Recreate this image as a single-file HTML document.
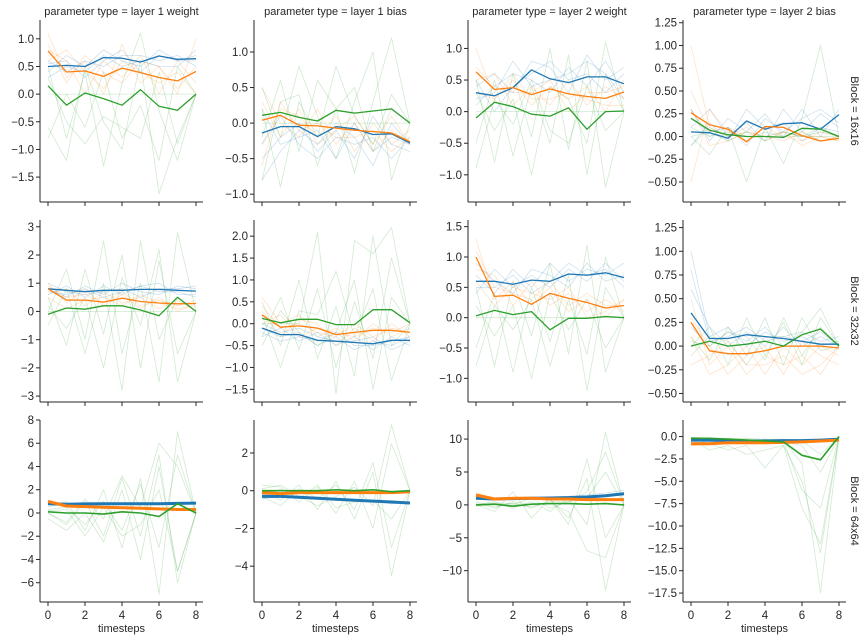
<!DOCTYPE html>
<html><head><meta charset="utf-8"><style>
html,body{margin:0;padding:0;background:#fff;}
svg{display:block;font-family:"Liberation Sans","DejaVu Sans",sans-serif;}
</style></head><body>
<svg id="chart" width="866" height="640" viewBox="0 0 866 640" xmlns="http://www.w3.org/2000/svg"></svg>
<script>
const xSteps=[0,1,2,3,4,5,6,7,8];
const xTicks=[0,2,4,6,8];
const colTitles=["parameter type = layer 1 weight","parameter type = layer 1 bias","parameter type = layer 2 weight","parameter type = layer 2 bias"];
const rowTitles=["Block = 16x16","Block = 32x32","Block = 64x64"];
const yDomains=[[[-1.95,1.34],[-1.11,1.45],[-1.43,1.45],[-0.72,1.28]],
[[-3.21,3.24],[-1.79,2.37],[-1.39,1.61],[-0.59,1.33]],
[[-7.66,8],[-5.9,3.75],[-14.76,12.9],[-18.5,1.85]]];
const yTicks=[[[-1.5,-1,-0.5,0,0.5,1],[-1,-0.5,0,0.5,1],[-1,-0.5,0,0.5,1],[-0.5,-0.25,0,0.25,0.5,0.75,1,1.25]],
[[-3,-2,-1,0,1,2,3],[-1.5,-1,-0.5,0,0.5,1,1.5,2],[-1,-0.5,0,0.5,1,1.5],[-0.5,-0.25,0,0.25,0.5,0.75,1,1.25]],
[[-6,-4,-2,0,2,4,6,8],[-4,-2,0,2],[-10,-5,0,5,10],[-17.5,-15,-12.5,-10,-7.5,-5,-2.5,0]]];
const yDecimals=[[1,1,1,2],[0,1,1,2],[0,0,0,1]];
const boldBlue=[[[0.5,0.52,0.5,0.66,0.65,0.58,0.69,0.63,0.64],[-0.14,-0.05,-0.05,-0.19,-0.05,-0.08,-0.16,-0.15,-0.28],[0.3,0.25,0.38,0.66,0.52,0.46,0.55,0.55,0.44],[0.05,0.04,-0.02,0.17,0.08,0.14,0.15,0.08,0.24]],
[[0.8,0.75,0.7,0.75,0.75,0.78,0.78,0.75,0.72],[-0.1,-0.25,-0.25,-0.38,-0.4,-0.43,-0.46,-0.38,-0.38],[0.6,0.6,0.55,0.62,0.6,0.72,0.7,0.74,0.66],[0.35,0.08,0.08,0.12,0.1,0.08,0.05,0.02,0.02]],
[[0.8,0.75,0.78,0.8,0.8,0.8,0.8,0.82,0.85],[-0.3,-0.3,-0.35,-0.4,-0.45,-0.5,-0.55,-0.6,-0.65],[1.0,0.9,0.95,1.0,1.05,1.1,1.2,1.4,1.7],[-0.4,-0.4,-0.45,-0.5,-0.5,-0.45,-0.45,-0.4,-0.3]]];
const boldOrange=[[[0.78,0.4,0.42,0.32,0.47,0.39,0.3,0.24,0.41],[0.04,0.11,-0.03,-0.04,-0.07,-0.1,-0.12,-0.14,-0.26],[0.63,0.35,0.38,0.27,0.36,0.28,0.24,0.21,0.31],[0.26,0.13,0.08,-0.06,0.11,0.1,0.01,-0.05,-0.02]],
[[0.8,0.4,0.4,0.33,0.47,0.35,0.3,0.27,0.28],[0.2,-0.08,-0.05,-0.1,-0.25,-0.2,-0.15,-0.15,-0.2],[1.0,0.35,0.37,0.22,0.4,0.32,0.25,0.16,0.2],[0.25,-0.05,-0.08,-0.08,-0.05,0.0,0.0,0.0,-0.02]],
[[1.0,0.6,0.55,0.5,0.45,0.4,0.35,0.3,0.3],[-0.1,-0.15,-0.1,-0.1,-0.1,-0.1,-0.1,-0.1,-0.05],[1.5,0.9,1.0,1.0,0.9,0.9,0.8,0.8,0.8],[-0.8,-0.8,-0.7,-0.7,-0.7,-0.65,-0.6,-0.5,-0.4]]];
const boldGreen=[[[0.15,-0.2,0.02,-0.08,-0.2,0.08,-0.22,-0.29,0],[0.11,0.15,0.08,0.03,0.18,0.14,0.17,0.2,0],[-0.1,0.15,0.08,-0.04,-0.07,0.06,-0.28,0,0.01],[0.2,0.07,0.02,0,0,-0.01,0.09,0.08,0]],
[[-0.1,0.12,0.08,0.2,0.2,0.05,-0.15,0.5,0],[0.12,0.02,0.1,0.1,-0.02,-0.02,0.32,0.32,0.02],[0.03,0.12,0.05,0.1,-0.2,-0.01,-0.01,0.02,0],[0.0,0.05,0.0,0.02,0.05,0.0,0.12,0.18,0.0]],
[[0.1,0,0,-0.1,0.1,0,-0.3,0.8,0],[0,0,0,0,0.05,0,0.05,-0.05,0],[0,0.1,-0.2,0.1,0.2,0.2,0.1,0.2,0],[-0.2,-0.2,-0.3,-0.4,-0.5,-0.6,-2.1,-2.6,0]]];
const faintBlue=[["0.4,0.7,0.5,0.8,0.6,0.5,0.8,0.6,0.7;0.6,0.4,0.6,0.5,0.7,0.7,0.6,0.7,0.5;0.3,0.5,0.4,0.7,0.5,0.6,0.5,0.5,0.8;0.55,0.6,0.3,0.6,0.8,0.4,0.7,0.6,0.6","-0.5,-0.2,0,-0.4,-0.1,-0.5,0.1,-0.3,-0.4;0.2,-0.3,-0.2,-0.1,-0.5,0,-0.4,-0.2,-0.3;-0.3,0.1,-0.3,-0.5,-0.2,-0.3,-0.2,-0.5,-0.2;-0.8,-0.4,-0.1,-0.3,0,-0.2,-0.6,0,-0.3","0.4,0.6,0.3,0.8,0.7,0.3,0.9,0.5,0.7;0.1,0.4,0.6,0.5,0.3,0.7,0.4,0.8,0.3;0.5,0,0.4,0.6,0.8,0.5,0.6,0.3,0.6;0.2,0.3,0.8,0.4,0.5,0.6,0.8,0.6,0.2","0.1,0.3,0,0.15,-0.05,0.3,0.05,0.25,0.1;0.3,-0.05,0.2,0.05,0.25,0,0.3,0,0.3;-0.1,0.15,-0.05,0.3,0.1,0.15,-0.05,0.1,0.05;0.2,0.05,0.1,-0.1,0.2,0.05,0.2,0.3,0.15"],
["0.8,0.5,0.9,0.6,1.0,0.7,0.6,0.9,0.8;0.6,0.9,0.5,0.9,0.6,0.9,1.0,0.6,0.6;1.0,0.7,0.6,0.7,0.8,0.5,0.8,0.8,0.9;0.7,0.6,0.8,0.5,0.7,0.9,0.7,0.7,0.5","-0.1,-0.3,-0.2,-0.5,-0.3,-0.6,-0.4,-0.5,-0.3;-0.3,-0.1,-0.4,-0.2,-0.5,-0.3,-0.6,-0.3,-0.5;0,-0.2,-0.1,-0.3,-0.4,-0.4,-0.3,-0.6,-0.4;-0.2,-0.4,-0.3,-0.4,-0.2,-0.5,-0.5,-0.4,-0.3","0.7,0.4,0.8,0.5,0.9,0.6,0.8,0.7,0.9;0.4,0.8,0.5,0.7,0.5,0.8,0.6,0.9,0.6;0.9,0.6,0.4,0.8,0.7,0.5,0.9,0.6,0.7;0.5,0.5,0.7,0.4,0.6,0.9,0.7,0.8,0.5","1.0,0.1,0.2,0,0.15,0.05,0.1,0,0.05;0.6,0.2,0,0.15,0,0.2,0,0.1,0;0.2,0,0.15,0.05,0.2,0,0.15,0.05,0.1;0.8,0.05,0.1,0.2,0.05,0.1,0.05,0.15,0"],
["0.7,0.8,0.75,0.8,0.85,0.8,0.85,0.9,0.85;0.9,0.7,0.8,0.75,0.8,0.85,0.8,0.85,0.9","-0.2,-0.3,-0.4,-0.4,-0.5,-0.5,-0.6,-0.65,-0.7;-0.4,-0.35,-0.3,-0.45,-0.4,-0.55,-0.5,-0.7,-0.6","1.2,1.0,1.1,1.1,1.2,1.3,1.5,1.8,2.2;0.8,0.9,0.9,1.0,1.0,1.1,1.2,1.5,1.9","-0.5,-0.4,-0.5,-0.5,-0.4,-0.4,-0.4,-0.3,-0.2;-0.7,-0.6,-0.6,-0.6,-0.6,-0.5,-0.5,-0.5,-0.4"]];
const faintOrange=[["1.1,0.3,0.6,0,0.9,0.2,0.5,0,1.0;0.8,0.6,0,0.6,0.3,0.7,0,0.6,0.2;0.6,0.8,0.4,0.1,0.6,0.4,0.2,0.4,0;0.9,0.2,0.7,0.4,0.2,0.6,0.5,0.1,0.5","0.5,0,-0.2,0.2,-0.3,0,-0.4,-0.1,-0.3;-0.3,0.2,0.1,-0.2,0.1,-0.4,0,-0.3,-0.1;0.3,-0.2,0.2,-0.3,-0.1,0.1,-0.3,0.1,-0.3;-0.6,0.3,-0.1,0,-0.2,-0.2,-0.1,-0.4,-0.2","1.0,0.2,0.5,0.1,0.4,0.2,0.4,0,0.5;0.5,0.6,0.1,0.4,0.1,0.5,0.1,0.4,0.2;0.7,0.4,0.3,0.3,0.5,0,0.3,0.3,0.4;0.3,0.2,0.6,0.2,0.2,0.3,0.2,0.1,0.1","1.0,0.1,0,0.1,-0.05,0.05,0,0,-0.05;-0.5,0.3,0.05,-0.05,0.1,0,-0.05,0.05,0;0.5,0.05,0.1,0,0,-0.05,0.05,-0.05,0;0.3,-0.1,-0.05,0.05,0,0.05,-0.1,0,-0.05"],
["1.0,0.3,0.8,0.2,0.6,0.1,0.5,0,0.3;0.6,0.8,0.2,0.7,0.3,0.5,0.1,0.4,0;0.9,0.5,0.6,0.3,0.7,0.2,0.4,0.2,0.4;0.5,0.1,0.4,0.5,0.2,0.6,0.3,0.1,0.2","0.6,0,0.2,-0.3,-0.1,-0.4,0,-0.3,-0.1;0.3,-0.3,0.1,0,-0.5,-0.1,-0.4,0,-0.3;0,0.2,-0.3,-0.1,-0.2,-0.3,-0.1,-0.2,0;0.4,-0.1,0,-0.2,-0.3,0,-0.3,-0.1,-0.2","1.3,0.3,0.6,0.2,0.5,0.1,0.3,0,0.3;0.8,0.7,0.2,0.6,0.2,0.4,0.1,0.3,0.1;1.1,0.5,0.4,0.3,0.6,0.2,0.4,0.2,0.2;0.6,0.2,0.5,0.4,0.3,0.5,0,0.1,0.3","0.5,-0.2,0,-0.3,-0.1,-0.2,-0.1,-0.3,0;0.1,-0.3,-0.2,0,-0.3,0,-0.2,0,-0.1;0.3,0,-0.3,-0.1,0,-0.3,0.05,-0.1,-0.2;-0.2,-0.1,0.05,-0.2,-0.2,-0.1,-0.3,-0.2,0"],
["1.1,0.7,0.6,0.5,0.5,0.45,0.4,0.35,0.35;0.9,0.5,0.5,0.45,0.4,0.35,0.3,0.25,0.3","0,-0.1,-0.15,-0.1,-0.05,-0.1,-0.15,-0.05,0;-0.2,-0.2,-0.1,-0.15,-0.15,-0.05,-0.1,-0.15,-0.1","1.8,1.0,1.1,1.0,1.0,0.9,0.9,0.9,0.9;1.3,0.8,0.9,0.9,0.8,0.8,0.7,0.7,0.7","-1.0,-0.9,-0.8,-0.8,-0.8,-0.7,-0.7,-0.6,-0.5;-0.6,-0.7,-0.6,-0.6,-0.6,-0.6,-0.5,-0.5,-0.3"]];
const faintGreen=[["0.5,-0.8,0.4,-1.3,0.2,1.1,-0.3,-1.2,0;-0.6,-1.2,0.5,-0.5,-1.0,0.6,-1.8,-0.8,0;-0.8,0.0,-0.6,0.4,-0.8,-0.2,-1.2,0.5,0;0.3,-0.5,-0.9,-0.4,-0.6,-0.8,0.4,-0.9,0;0,0,0,0,0,0,0,0,0","0.5,-0.2,0.8,0.1,-0.5,0.3,1.0,-0.8,0;-0.2,0.6,-0.4,0.6,0.2,-0.7,0.3,1.2,0;0.2,-0.9,0.3,-0.2,0.8,0.1,-0.3,0.4,0;-0.8,0.3,0.4,-0.6,0.2,0.5,-0.4,0.2,0;0,0,0,0,0,0,0,0,0","0.5,-0.8,0.6,-0.4,1.0,-0.6,0.8,-1.2,0;-0.5,0.5,-0.7,0.4,-0.5,0.9,-1.0,0.6,0;0.3,-0.3,0.2,-1.0,0.4,0.2,-0.5,1.1,0;-0.9,0.2,-0.2,0.5,-0.3,-0.5,0.4,-0.3,0;0,0,0,0,0,0,0,0,0","0.3,0,0.1,-0.05,0.05,0,0,0.05,0;-0.1,0.1,0,0.05,-0.05,0.05,0,0,0;0.1,0,0.05,0,0,0,0.05,-0.05,0;0,0.05,-0.05,0.05,0,0.05,0,0.1,0;0,-0.2,0.1,-0.5,0.1,-0.3,0.2,1.0,0"],
["0,1.5,-1.0,2.5,-1.5,1.0,-2.5,2.8,0;0.5,-1.2,1.5,-0.8,2.0,-2.0,1.8,-1.5,0;-0.5,0.8,-1.5,1.0,-2.8,2.5,-1.0,0.5,0;0.2,-0.6,0.5,-2.0,1.2,-0.5,2.2,-2.5,0;0,0,0,0,0,0,0,0,0","0.5,-0.5,1.0,-0.8,0.4,-1.2,2.0,-0.5,0;-0.3,0.6,-0.6,0.8,-1.0,0.5,-0.8,1.5,0;0.2,-1.0,0.3,0.2,1.2,-0.3,0.8,-1.3,0;-0.5,0.3,-0.2,-0.5,-0.2,1.0,-1.5,0.6,0;0,0,0,2.1,-1.6,1.9,1.6,2.2,0","0.5,-0.8,0.6,-0.3,0.9,-0.6,1.2,-0.9,0;-0.5,0.4,-0.9,0.5,-0.4,0.7,-1.2,0.5,0;0.2,-0.3,0.2,-1.0,0.4,-0.2,0.3,-0.5,0;-0.8,0.2,-0.2,0.3,-0.8,0.3,-0.6,1.0,0;0,0,0,0,0,0,0,0,0","0,0.2,-0.2,0.3,-0.1,0.25,-0.2,0.3,0;0.1,-0.15,0.2,-0.1,0.3,-0.2,0.3,-0.05,0;-0.1,0.1,0.05,-0.2,0.1,0.1,0.15,0.4,0;0.05,0,0.15,0.1,-0.15,0.3,-0.1,0.2,0"],
["0,-1,1,-2,3,-2,5,-6,0;0.5,1,-1.5,2,-3,3,-7,7,0;-0.5,-1.5,0,-2.5,2,-4,4,-5,0;0.3,0.5,-1,1,-1.5,2.5,-3,5,0;0,-0.8,1.2,-0.5,3.2,0.5,6,4,0;0.2,0.3,-2,0.5,-2,-1,2,-5,0","0,-0.5,0.3,-1,0.5,-1.5,1,-4.5,0;0.3,0.2,-0.6,0.2,-1.2,0.5,-2,2.5,0;-0.3,-0.8,0.1,-0.4,0.3,-1,1.5,-3,0;0.1,0.3,-0.3,-0.8,-0.3,0.2,-0.8,3.5,0;-0.5,0.1,-0.4,0.3,-0.9,-0.6,-0.5,-1.5,0","0,0.5,-0.5,0.5,-1,1,-3,11,0;0.5,-0.3,0.3,-0.5,0.8,-2,4,-13,0;-0.2,0.2,0,1,-0.5,0.5,2,8,0;0.3,-0.5,0.5,0,0.2,-1,-7,-8,0;0,0.3,0.2,-0.3,0.5,0.5,1,5,0;0,-1,2,-2,1,-3,7,-5,0","-0.2,-0.3,-0.3,-0.4,-0.5,-0.5,-3,-17.5,0;-0.1,-0.2,-0.3,-0.3,-0.4,-0.5,-6,-8,0;-0.2,-0.4,-0.2,-0.5,-0.3,-0.6,-1,-4,0;-0.1,-0.2,-0.2,-0.2,-0.3,-0.3,-0.5,-2,0;-0.3,-1.5,-1,-2,-1.5,-1,-8,-12,0;-0.2,-0.8,-1.5,-1,-3.5,-1,-5,-13,0"]];

const NS="http://www.w3.org/2000/svg";
const svg=document.getElementById('chart');
const colLeft=[40,254,468,683], rowTop=[20,220,420], PW=163, PH=182;
const BLUE="#1f77b4", ORANGE="#ff7f0e", GREEN="#2ca02c";
const TICKFS=11.5, TITLEFS=11;
function mk(tag,attrs,parent){const e=document.createElementNS(NS,tag);for(const k in attrs)e.setAttribute(k,attrs[k]);(parent||svg).appendChild(e);return e;}
function fmt(v,d){let s=v.toFixed(d);return s.replace('-','\u2212');}
function parseRuns(str){return str.split(';').map(r=>r.split(',').map(Number));}

for(let r=0;r<3;r++){for(let c=0;c<4;c++){
  const L=colLeft[c],T=rowTop[r];
  const xS=v=>L+8+v*(148/8);
  const [y0,y1]=yDomains[r][c];
  const yS=v=>T+PH-(v-y0)/(y1-y0)*PH;
  const g=mk('g',{});
  
  
  const clipId='clip'+r+c;
  const cp=mk('clipPath',{id:clipId},g);mk('rect',{x:L,y:T,width:PW,height:PH},cp);
  const plot=mk('g',{'clip-path':'url(#'+clipId+')'},g);
  const line=(vals,color,w,op,name)=>{
    const p=mk('polyline',{points:vals.map((v,i)=>xS(xSteps[i]).toFixed(1)+','+yS(v).toFixed(1)).join(' '),fill:'none',stroke:color,'stroke-width':w,'stroke-opacity':op,'stroke-linejoin':'round'},plot);
    
    
  };
  parseRuns(faintGreen[r][c]).forEach(v=>line(v,GREEN,0.8,0.22,'faint-green-line'));
  parseRuns(faintOrange[r][c]).forEach(v=>line(v,ORANGE,0.8,0.22,'faint-orange-line'));
  parseRuns(faintBlue[r][c]).forEach(v=>line(v,BLUE,0.8,0.22,'faint-blue-line'));
  const bw=r===2?3:1.3;
  line(boldBlue[r][c],BLUE,bw,1,'mean-blue-line');
  line(boldOrange[r][c],ORANGE,bw,1,'mean-orange-line');
  line(boldGreen[r][c],GREEN,r===2?1.6:1.3,1,'mean-green-line');
  const ax=mk('g',{stroke:'#262626','stroke-width':1},g);
  
  
  mk('line',{x1:L,y1:T,x2:L,y2:T+PH},ax);
  mk('line',{x1:L,y1:T+PH,x2:L+PW,y2:T+PH},ax);
  xTicks.forEach(t=>{
    mk('line',{x1:xS(t),y1:T+PH,x2:xS(t),y2:T+PH+4},ax);
    if(r===2){const tx=mk('text',{x:xS(t),y:T+PH+17,'text-anchor':'middle','font-size':TICKFS,fill:'#262626'},g);tx.textContent=t;
      
      }
  });
  yTicks[r][c].forEach(t=>{
    const y=yS(t);
    mk('line',{x1:L-4,y1:y,x2:L,y2:y},ax);
    const tx=mk('text',{x:L-6,y:y+4,'text-anchor':'end','font-size':TICKFS,fill:'#262626'},g);
    tx.textContent=fmt(t,yDecimals[r][c]);
    
    
  });
  if(r===0){const tt=mk('text',{x:L+PW/2,y:15,'text-anchor':'middle','font-size':TITLEFS,fill:'#262626'},g);tt.textContent=colTitles[c];
    
    }
  if(r===2){const xl=mk('text',{x:L+PW/2,y:632,'text-anchor':'middle','font-size':TITLEFS,fill:'#262626'},g);xl.textContent='timesteps';
    
    }
  if(c===3){const cy=T+PH/2;const rl=mk('text',{x:0,y:0,transform:'translate(851,'+cy+') rotate(90)','text-anchor':'middle','font-size':TITLEFS,fill:'#262626'},g);rl.textContent=rowTitles[r];
    
    }
}}
</script>
</body></html>
